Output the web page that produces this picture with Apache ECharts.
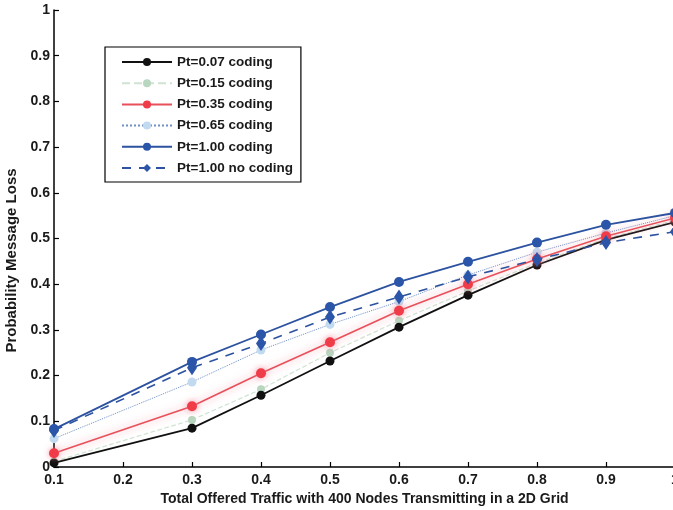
<!DOCTYPE html>
<html>
<head>
<meta charset="utf-8">
<script src="https://cdn.jsdelivr.net/npm/echarts@6/dist/echarts.min.js"></script>
<style>
html,body{margin:0;padding:0;background:#fff;}
#chart{width:673px;height:510px;}
</style>
</head>
<body>
<div id="chart"></div>
<script>
const xValues = [0.1, 0.3, 0.4, 0.5, 0.6, 0.7, 0.8, 0.9, 1.0];
const pt007 = [0.009, 0.085, 0.157, 0.232, 0.306, 0.376, 0.442, 0.497, 0.536];
const pt015 = [0.012, 0.103, 0.170, 0.250, 0.320, 0.385, 0.446, 0.500, 0.540];
const pt035 = [0.030, 0.133, 0.205, 0.273, 0.342, 0.400, 0.455, 0.505, 0.545];
const pt065 = [0.062, 0.186, 0.256, 0.312, 0.362, 0.420, 0.470, 0.512, 0.550];
const pt100 = [0.083, 0.230, 0.290, 0.350, 0.405, 0.449, 0.491, 0.530, 0.556];
const pt100nc = [0.080, 0.217, 0.270, 0.328, 0.372, 0.416, 0.454, 0.491, 0.515];
const seriesNames = ['Pt=0.07 coding','Pt=0.15 coding','Pt=0.35 coding','Pt=0.65 coding','Pt=1.00 coding','Pt=1.00 no coding'];
const xTitle = 'Total Offered Traffic with 400 Nodes Transmitting in a 2D Grid';
const yTitle = 'Probability Message Loss';

function pairs(ys){ return xValues.map((x,i)=>[x, ys[i]]); }

const chart = echarts.init(document.getElementById('chart'));
const fontFamily = 'Liberation Sans, Arial, sans-serif';
chart.setOption({
  animation: false,
  backgroundColor: '#fff',
  grid: {left: 54, right: -2, top: 10, bottom: 43, containLabel: false, outerBoundsMode: 'none'},
  legend: {
    orient: 'vertical', left: 105, top: 47,
    itemWidth: 50, itemHeight: 10, itemGap: 7.2,
    padding: [8, 8, 7, 16],
    borderColor: '#000', borderWidth: 1.2,
    backgroundColor: '#fff',
    textStyle: {fontFamily, fontSize: 13.5, fontWeight: 'bold', color: '#1a1a1a'},
    data: seriesNames
  },
  xAxis: {
    type: 'value', min: 0.1, max: 1, interval: 0.1,
    name: xTitle, nameLocation: 'middle', nameGap: 23,
    nameTextStyle: {fontFamily, fontSize: 14, fontWeight: 'bold', color: '#1a1a1a'},
    axisLine: {show: true, lineStyle: {color: '#000', width: 1.5}},
    axisTick: {show: true, inside: true, length: 5, lineStyle: {color: '#000', width: 1.2}},
    axisLabel: {fontFamily, fontSize: 14, fontWeight: 'bold', color: '#1a1a1a', margin: 6, formatter: v => String(Math.round(v*10)/10)},
    splitLine: {show: false}
  },
  yAxis: {
    type: 'value', min: 0, max: 1, interval: 0.1,
    name: yTitle, nameLocation: 'middle', nameGap: 32,
    nameTextStyle: {fontFamily, fontSize: 15, fontWeight: 'bold', color: '#1a1a1a', padding: [0, 44, 0, 0]},
    axisLine: {show: true, lineStyle: {color: '#000', width: 1.5}},
    axisTick: {show: true, inside: true, length: 5, lineStyle: {color: '#000', width: 1.2}},
    axisLabel: {fontFamily, fontSize: 14, fontWeight: 'bold', color: '#1a1a1a', margin: 4, formatter: v => String(Math.round(v*10)/10)},
    splitLine: {show: false}
  },
  series: [
    {name: seriesNames[0], type: 'line', data: pairs(pt007), symbol: 'circle', symbolSize: 9,
     lineStyle: {color: '#111', width: 1.8}, itemStyle: {color: '#111'}, z: 3},
    {name: seriesNames[1], type: 'line', data: pairs(pt015), symbol: 'circle', symbolSize: 8,
     lineStyle: {color: '#cfe3d2', width: 1.2, type: 'dashed'}, itemStyle: {color: '#b9d6c0'}, z: 2},
    {name: seriesNames[2], type: 'line', data: pairs(pt035), symbol: 'circle', symbolSize: 10,
     lineStyle: {color: '#e8505a', width: 1.6, shadowColor: 'rgba(240,130,150,0.8)', shadowBlur: 8},
     itemStyle: {color: '#f03c48', shadowColor: 'rgba(240,130,150,0.8)', shadowBlur: 6}, z: 4},
    {name: seriesNames[3], type: 'line', data: pairs(pt065), symbol: 'circle', symbolSize: 9,
     lineStyle: {color: '#6e8fc4', width: 1, type: 'dotted'}, itemStyle: {color: '#c2daf0'}, z: 2},
    {name: seriesNames[4], type: 'line', data: pairs(pt100), symbol: 'circle', symbolSize: 10,
     lineStyle: {color: '#2c52a0', width: 1.8}, itemStyle: {color: '#2a55a8'}, z: 5},
    {name: seriesNames[5], type: 'line', data: pairs(pt100nc), symbol: 'diamond', symbolSize: [10, 15],
     lineStyle: {color: '#2c52a0', width: 1.6, type: [9, 8]}, itemStyle: {color: '#2a55a8'}, z: 5}
  ]
});
</script>
</body>
</html>
